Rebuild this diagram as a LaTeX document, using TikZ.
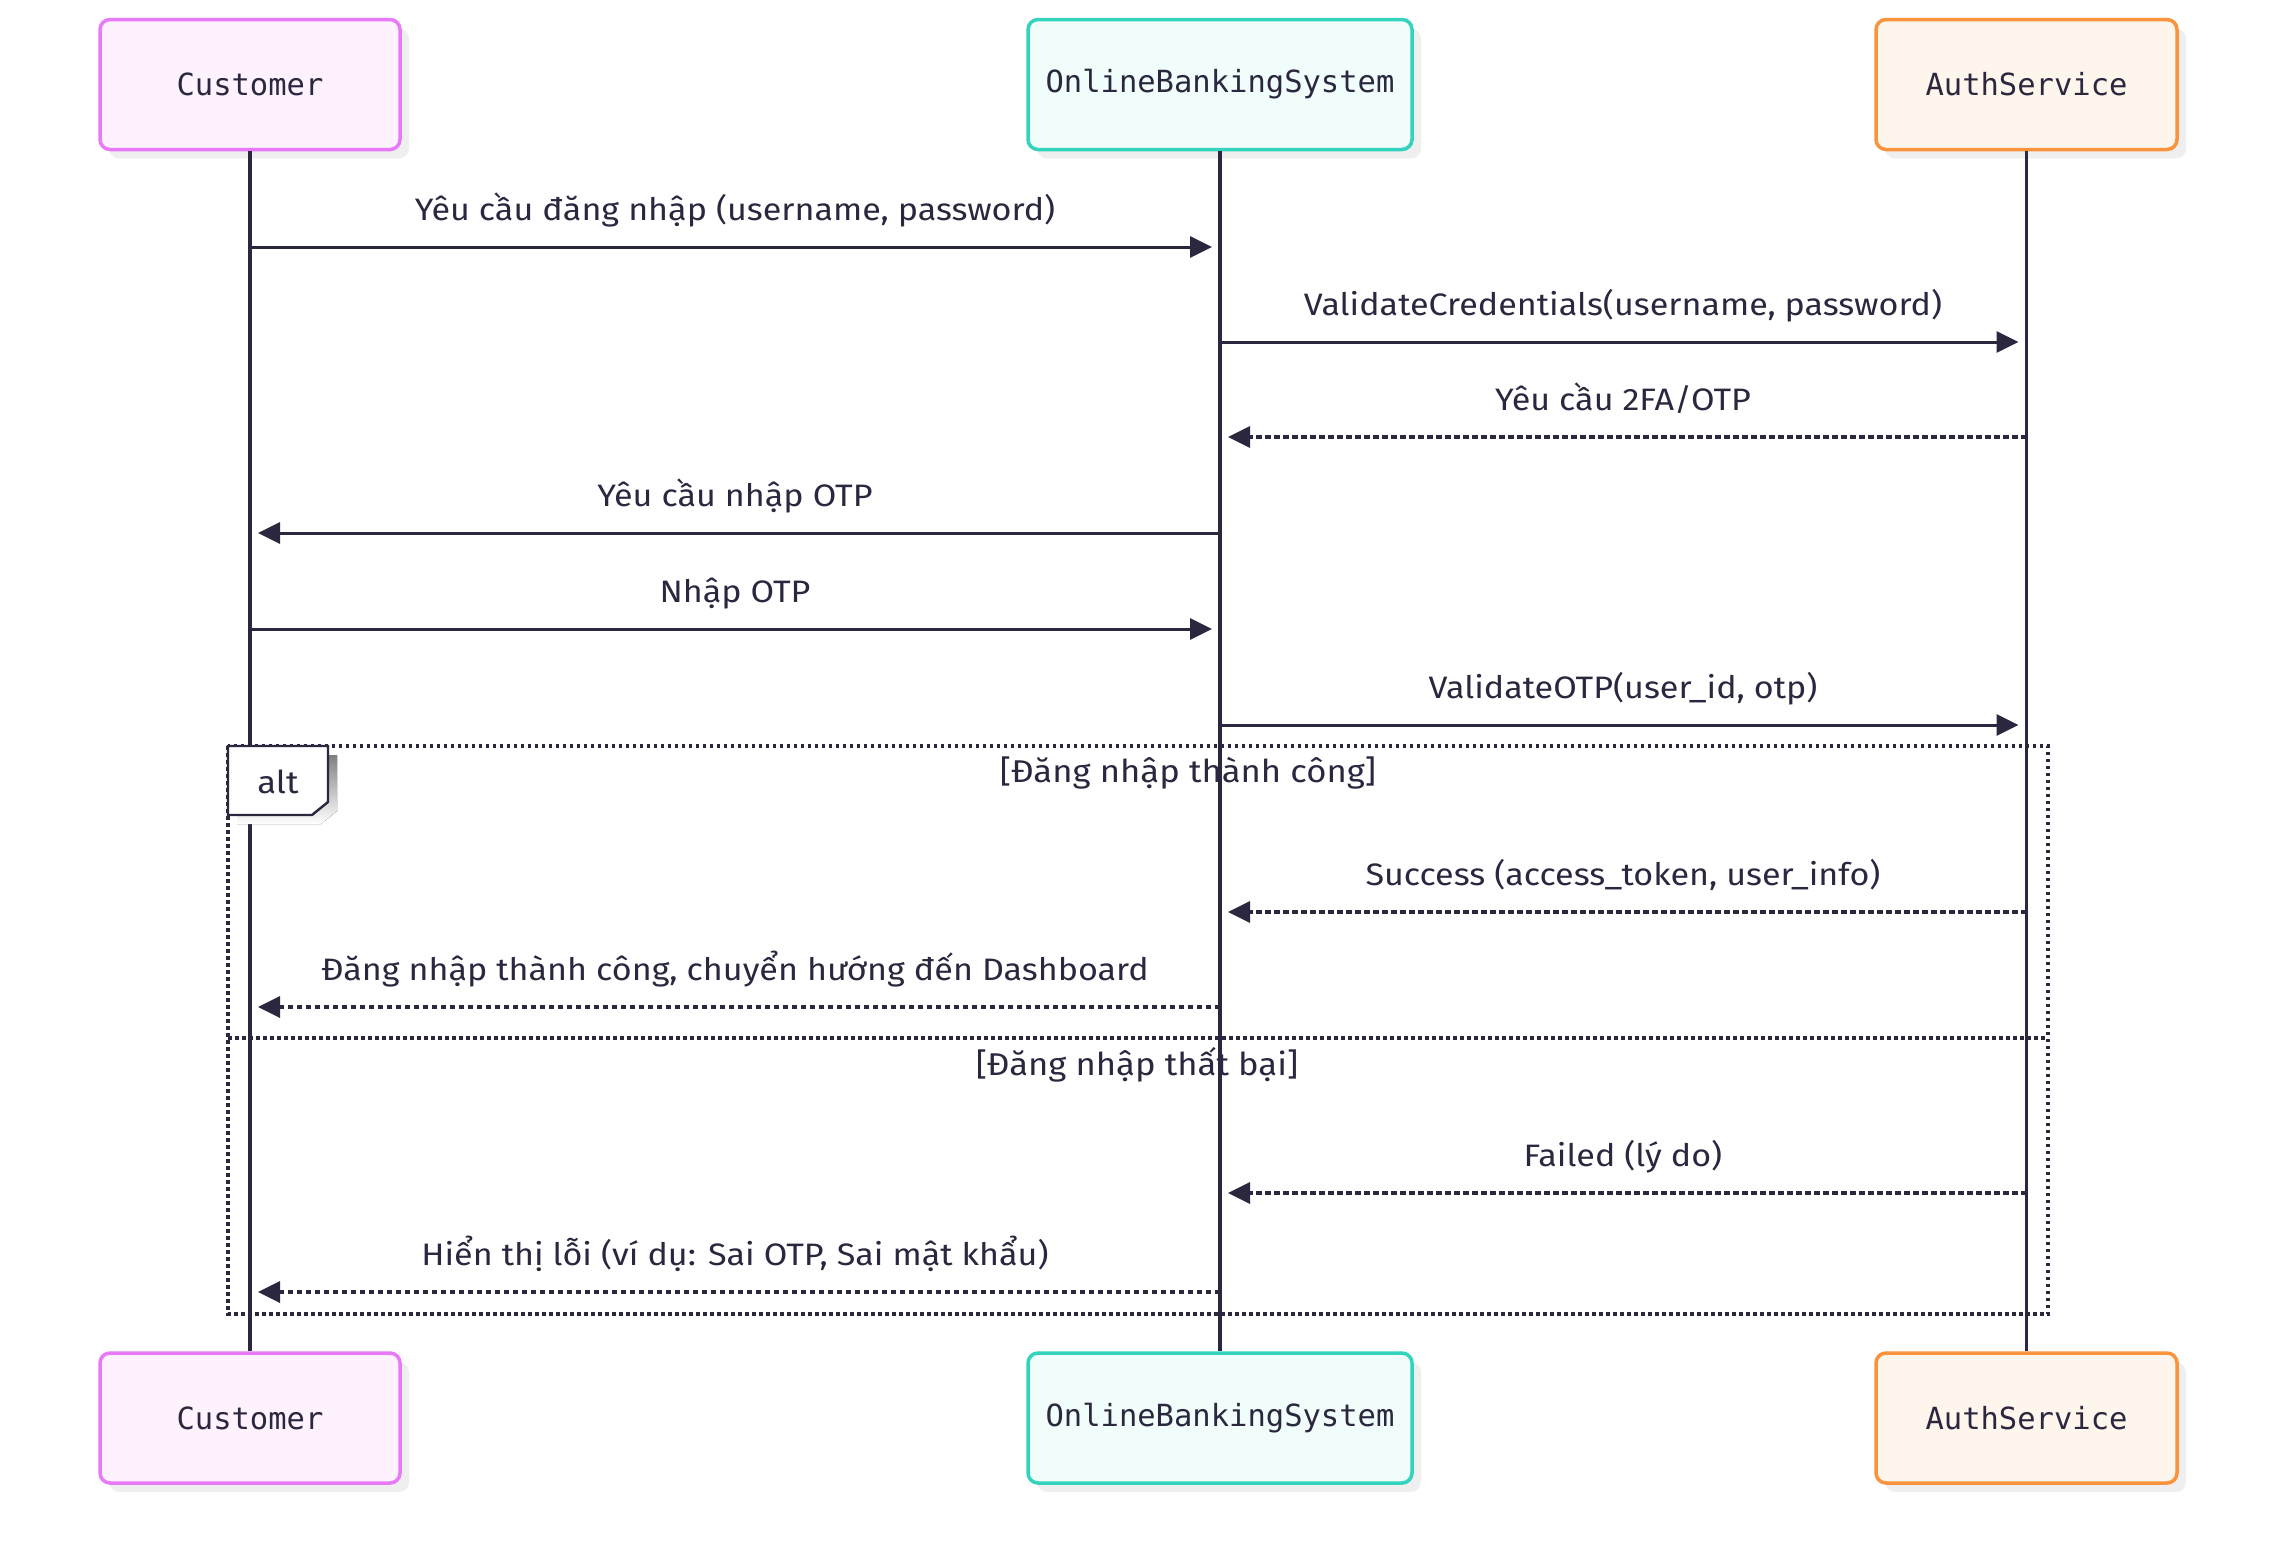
\documentclass[tikz,border=0pt]{standalone}
\usepackage{fontspec}
\setmainfont{Fira Sans}[FakeStretch=1.1]
\newfontfamily\actorfont{DejaVu Sans Mono}
\usetikzlibrary{arrows.meta,shadows}

\definecolor{ink}{RGB}{42,39,63}
\definecolor{shade}{RGB}{239,239,239}
\definecolor{custline}{RGB}{232,121,249}
\definecolor{custfill}{RGB}{253,242,254}
\definecolor{bankline}{RGB}{50,212,190}
\definecolor{bankfill}{RGB}{240,253,250}
\definecolor{authline}{RGB}{251,146,60}
\definecolor{authfill}{RGB}{254,245,236}

\begin{document}
\begin{tikzpicture}[x=1pt,y=-1pt,
  actorbox/.style={draw, rounded corners=10pt, line width=3.5pt,
    minimum height=130pt, inner sep=0pt, text=ink,
    font=\actorfont\fontsize{30.5}{36}\selectfont,
    drop shadow={shadow xshift=9pt, shadow yshift=-9pt, fill=shade, opacity=1}},
  lifeline/.style={draw=ink, line width=3.2pt},
  call/.style={draw=ink, line width=3pt, shorten >=8pt,
    -{Triangle[length=22pt,width=21pt]}},
  reply/.style={call, line width=3.5pt, dash pattern=on 5.5pt off 3.5pt},
  msglabel/.style={anchor=base, text=ink, inner sep=0pt,
    font=\fontsize{31}{36}\selectfont},
  guard/.style={anchor=base, text=ink, inner sep=0pt,
    font=\fontsize{31.5}{38}\selectfont},
  frame/.style={draw=ink, line width=3.5pt, dash pattern=on 3.5pt off 3.5pt},
]
\useasboundingbox (0,0) rectangle (2276,1566);

% alt frame with its two guarded sections
\draw[frame] (228,746) rectangle (2048,1314);
\draw[frame] (228,1038) -- (2048,1038);
\node[guard] (g1) at (1188,782) {[Đăng nhập thành công]};
\node[guard] (g2) at (1137,1075) {[Đăng nhập thất bại]};

% participants, top and bottom
\node[actorbox, draw=custline, fill=custfill, minimum width=300pt] (c1) at (250,84.5) {Customer};
\node[actorbox, draw=bankline, fill=bankfill, minimum width=384pt] (o1) at (1220,84.5) {OnlineBankingSystem};
\node[actorbox, draw=authline, fill=authfill, minimum width=301pt] (a1) at (2026.5,84.5) {AuthService};
\node[actorbox, draw=custline, fill=custfill, minimum width=300pt] (c2) at (250,1418) {Customer};
\node[actorbox, draw=bankline, fill=bankfill, minimum width=384pt] (o2) at (1220,1418) {OnlineBankingSystem};
\node[actorbox, draw=authline, fill=authfill, minimum width=301pt] (a2) at (2026.5,1418) {AuthService};

% lifelines
\draw[lifeline] (c1.south) -- (c2.north);
\draw[lifeline] (o1.south) -- (o2.north);
\draw[lifeline] (a1.south) -- (a2.north);

% alt tab
\fill[shade] (237,755) -- (337,755) -- (337,811) -- (321,824) -- (237,824) -- cycle;
\draw[fill=white, draw=ink, line width=2.4pt] (228,746) -- (328,746) -- (328,802) -- (312,815) -- (228,815) -- cycle;
\node[guard] (alt) at (278,793) {alt};

% messages
\draw[call]  (c1 |- 0,247)  -- (o1 |- 0,247);
\node[msglabel] (l1) at (735,220) {Yêu cầu đăng nhập (username, password)};
\draw[call]  (o1 |- 0,342)  -- (a1 |- 0,342);
\node[msglabel] (l2) at (1623,315) {ValidateCredentials(username, password)};
\draw[reply] (a1 |- 0,437)  -- (o1 |- 0,437);
\node[msglabel] (l3) at (1623,410) {Yêu cầu 2FA/OTP};
\draw[call]  (o1 |- 0,533)  -- (c1 |- 0,533);
\node[msglabel] (l4) at (735,506) {Yêu cầu nhập OTP};
\draw[call]  (c1 |- 0,629)  -- (o1 |- 0,629);
\node[msglabel] (l5) at (735,602) {Nhập OTP};
\draw[call]  (o1 |- 0,725)  -- (a1 |- 0,725);
\node[msglabel] (l6) at (1623,698) {ValidateOTP(user\_id, otp)};
\draw[reply] (a1 |- 0,912)  -- (o1 |- 0,912);
\node[msglabel] (l7) at (1623,885) {Success (access\_token, user\_info)};
\draw[reply] (o1 |- 0,1007) -- (c1 |- 0,1007);
\node[msglabel] (l8) at (735,980) {Đăng nhập thành công, chuyển hướng đến Dashboard};
\draw[reply] (a1 |- 0,1193) -- (o1 |- 0,1193);
\node[msglabel] (l9) at (1623,1166) {Failed (lý do)};
\draw[reply] (o1 |- 0,1292) -- (c1 |- 0,1292);
\node[msglabel] (l10) at (735,1265) {Hiển thị lỗi (ví dụ: Sai OTP, Sai mật khẩu)};
\end{tikzpicture}
\end{document}
